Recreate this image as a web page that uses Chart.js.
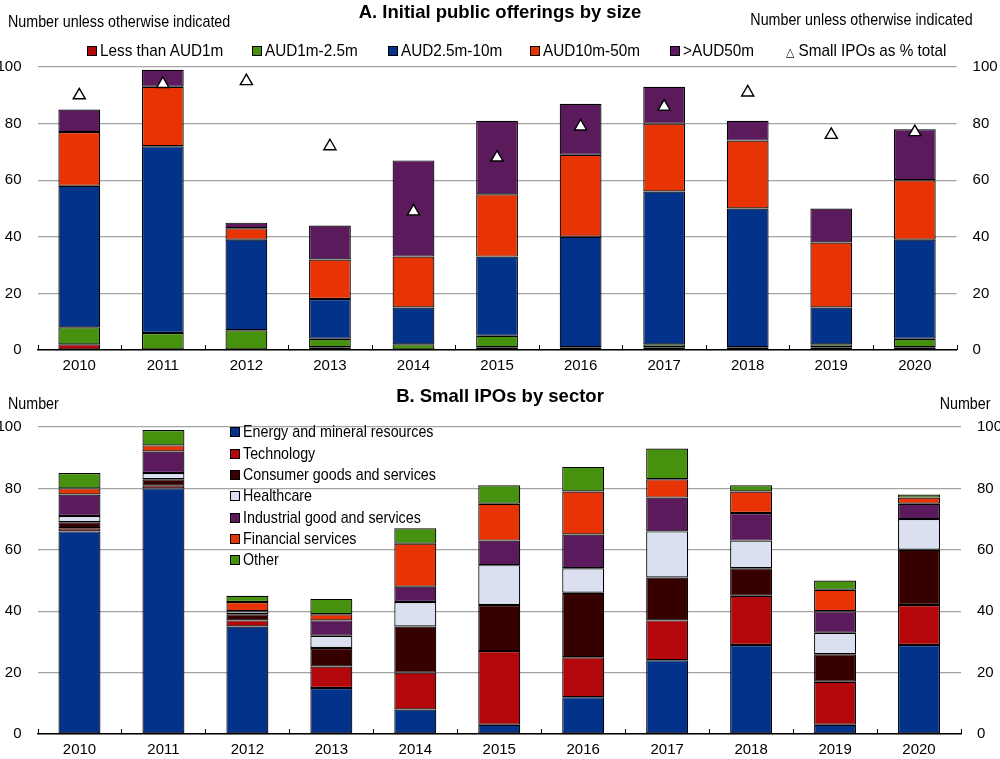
<!DOCTYPE html>
<html>
<head>
<meta charset="utf-8">
<script src="https://cdn.jsdelivr.net/npm/chart.js@4.4.0/dist/chart.umd.min.js"></script>
<style>
  body { margin: 0; background: #fff; font-family: 'Liberation Sans', Arial, sans-serif; }
  #wrap { position: relative; width: 1000px; height: 759px; }
  canvas { position: absolute; left: 0; }
  .txt { position: absolute; font-size: 17px; color: #000; white-space: nowrap; line-height: 17px; transform: scaleX(0.84); transform-origin: left center; }
  .txt.r { transform-origin: right center; }
  .title { position: absolute; width: 1000px; text-align: center; font-weight: bold; font-size: 18.5px; line-height: 18px; }
  .sw { position: absolute; width: 8px; height: 8px; border: 1px solid #000; }
</style>
</head>
<body>
<div id="wrap">
  <canvas id="topChart" width="1000" height="380" style="top:0"></canvas>
  <canvas id="bottomChart" width="1000" height="379" style="top:380px"></canvas>
  <div class="title" style="top:3px">A. Initial public offerings by size</div>
  <div class="txt" style="left:8px;top:13px">Number unless otherwise indicated</div>
  <div class="txt r" style="right:27px;top:11px">Number unless otherwise indicated</div>
  <div class="title" style="top:387px">B. Small IPOs by sector</div>
  <div class="txt" style="left:8px;top:395px">Number</div>
  <div class="txt r" style="right:10px;top:395px">Number</div>
</div>
<script>
const years = ['2010', '2011', '2012', '2013', '2014', '2015', '2016', '2017', '2018', '2019', '2020'];
const yTicks = [0, 20, 40, 60, 80, 100];

// Panel A: IPOs by size
const lessThan1m = [2, 0, 0, 1, 0, 1, 1, 1, 0, 1, 1];
const aud1to25m = [6, 6, 7, 3, 2, 4, 0, 1, 1, 1, 3];
const aud25to10m = [50, 66, 32, 14, 13, 28, 39, 54, 49, 13, 35];
const aud10to50m = [19, 21, 4, 14, 18, 22, 29, 24, 24, 23, 21];
const over50m = [8, 6, 2, 12, 34, 26, 18, 13, 7, 12, 18];
const smallPct = [90, 94, 95, 72, 49, 68, 79, 86, 91, 76, 77];

// Panel B: small IPOs by sector
const energy = [66, 80, 35, 15, 8, 3, 12, 24, 29, 3, 29];
const technology = [1, 1, 2, 7, 12, 24, 13, 13, 16, 14, 13];
const consumer = [2, 2, 2, 6, 15, 15, 21, 14, 9, 9, 18];
const healthcare = [2, 2, 1, 4, 8, 13, 8, 15, 9, 7, 10];
const industrial = [7, 7, 0, 5, 5, 8, 11, 11, 9, 7, 5];
const financial = [2, 2, 3, 2, 14, 12, 14, 6, 7, 7, 2];
const other = [5, 5, 2, 5, 5, 6, 8, 10, 2, 3, 1];

const C = {
    red: '#B3070B',
    green: '#46920F',
    blue: '#03328A',
    orange: '#E83305',
    purple: '#5B1A5C',
    maroon: '#360001',
    light: '#DAE0EF'
};

Chart.defaults.font.family = "'Liberation Sans', Arial, sans-serif";
Chart.defaults.font.size = 15;
Chart.defaults.color = '#000';

// small upward tick marks between categories
const catTicks = {
    id: 'catTicks',
    afterDraw(chart) {
        const a = chart.chartArea, ctx = chart.ctx;
        const n = chart.data.labels.length;
        const step = (a.right - a.left) / n;
        ctx.save();
        ctx.strokeStyle = '#000';
        ctx.lineWidth = 1;
        for (let i = 0; i <= n; i++) {
            const x = Math.round(a.left + i * step) + 0.5;
            ctx.beginPath();
            ctx.moveTo(x, a.bottom);
            ctx.lineTo(x, a.bottom - 5);
            ctx.stroke();
        }
        ctx.restore();
    }
};

function barSet(label, data, color) {
    return { type: 'bar', label, data, backgroundColor: color, borderColor: '#000', borderWidth: 1.2, borderSkipped: false, yAxisID: 'y' };
}

function makeScales(leftW, rightW, xH) {
    return {
        x: {
            stacked: true,
            offset: true,
            grid: { display: false, drawTicks: false },
            border: { display: true, color: '#000', width: 1.5 },
            ticks: { padding: 7, maxRotation: 0 },
            afterFit(s) { s.height = xH; }
        },
        y: {
            stacked: true,
            min: 0, max: 100,
            afterBuildTicks(s) { s.ticks = yTicks.map(v => ({ value: v })); },
            grid: { color: '#a3a3a3', lineWidth: 1.3, drawTicks: false },
            border: { display: false },
            ticks: { padding: 16 },
            afterFit(s) { s.width = leftW; }
        },
        y1: {
            position: 'right',
            min: 0, max: 100,
            afterBuildTicks(s) { s.ticks = yTicks.map(v => ({ value: v })); },
            grid: { display: false, drawTicks: false },
            border: { display: false },
            ticks: { padding: 16 },
            afterFit(s) { s.width = rightW; }
        }
    };
}

const commonOpts = {
    responsive: false,
    animation: false,
    datasets: { bar: { categoryPercentage: 1, barPercentage: 0.5 } },
    plugins: { legend: { display: false }, tooltip: { enabled: false } }
};

// Panel A
new Chart(document.getElementById('topChart').getContext('2d'), {
    data: {
        labels: years,
        datasets: [
            barSet('Less than AUD1m', lessThan1m, C.red),
            barSet('AUD1m-2.5m', aud1to25m, C.green),
            barSet('AUD2.5m-10m', aud25to10m, C.blue),
            barSet('AUD10m-50m', aud10to50m, C.orange),
            barSet('>AUD50m', over50m, C.purple),
            {
                type: 'line', label: 'Small IPOs as % total', data: smallPct, yAxisID: 'y1',
                showLine: false, pointStyle: 'triangle', pointRadius: 7,
                pointBackgroundColor: '#fff', pointBorderColor: '#000', pointBorderWidth: 1.4,
                order: -1
            }
        ]
    },
    options: Object.assign({}, commonOpts, {
        layout: { padding: { top: 67, left: 0, right: 0, bottom: 0 } },
        scales: makeScales(37.5, 43.4, 30)
    }),
    plugins: [catTicks]
});

// Panel B
const bottomSets = [
    barSet('Energy and mineral resources', energy, C.blue),
    barSet('Technology', technology, C.red),
    barSet('Consumer goods and services', consumer, C.maroon),
    barSet('Healthcare', healthcare, C.light),
    barSet('Industrial good and services', industrial, C.purple),
    barSet('Financial services', financial, C.orange),
    barSet('Other', other, C.green)
];
new Chart(document.getElementById('bottomChart').getContext('2d'), {
    data: { labels: years, datasets: bottomSets },
    options: Object.assign({}, commonOpts, {
        layout: { padding: { top: 47, left: 0, right: 0, bottom: 0 } },
        scales: makeScales(37.5, 39, 21.3)
    }),
    plugins: [catTicks]
});

// Legends (HTML)
const wrap = document.getElementById('wrap');
function addItem(x, y, label, color, scale) {
    const sw = document.createElement('div');
    sw.className = 'sw';
    sw.style.left = x + 'px';
    sw.style.top = (y - 5) + 'px';
    sw.style.background = color;
    wrap.appendChild(sw);
    const t = document.createElement('div');
    t.className = 'txt';
    t.style.left = (x + 13) + 'px';
    t.style.top = (y - 9) + 'px';
    if (scale) t.style.transform = 'scaleX(' + scale + ')';
    t.textContent = label;
    wrap.appendChild(t);
}
const topLegendX = [87, 252, 388, 530, 670];
const topLabels = ['Less than AUD1m', 'AUD1m-2.5m', 'AUD2.5m-10m', 'AUD10m-50m', '>AUD50m'];
const topColors = [C.red, C.green, C.blue, C.orange, C.purple];
topLabels.forEach((l, i) => addItem(topLegendX[i], 51, l, topColors[i], 0.9));
const tri = document.createElement('div');
tri.className = 'txt';
tri.style.left = '786px';
tri.style.top = '42px';
tri.style.transform = 'scaleX(0.9)';
tri.innerHTML = '<span style="font-family:DejaVu Sans;font-size:12px">&#9651;</span> Small IPOs as % total';
wrap.appendChild(tri);

bottomSets.forEach((d, i) => addItem(230, 432.3 + i * 21.3, d.label, d.backgroundColor));
</script>
</body>
</html>
